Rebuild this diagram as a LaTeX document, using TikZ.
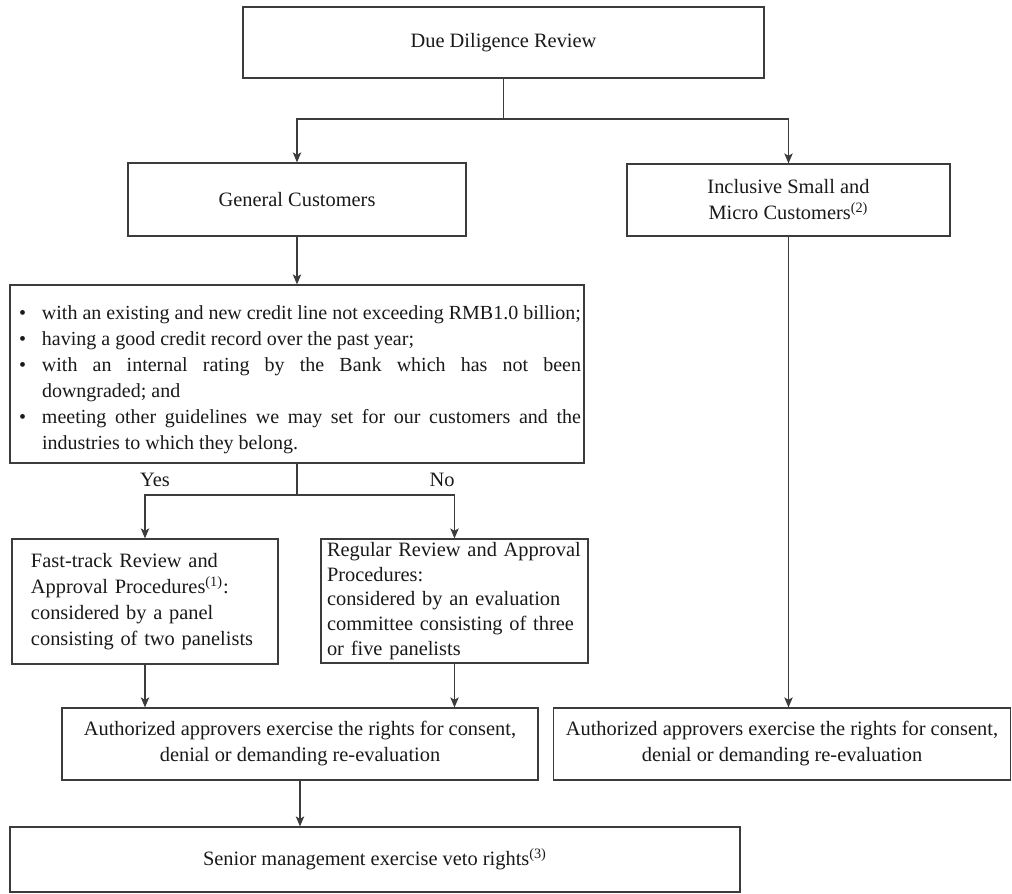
\documentclass[tikz,border=0pt]{standalone}
\usepackage{fontspec}
\setmainfont{Liberation Serif}
\usetikzlibrary{arrows.meta}
\definecolor{linec}{RGB}{60,60,60}
\definecolor{textc}{RGB}{25,25,25}
\newcommand{\critem}[1]{\par\noindent\hangindent=14.5pt\hangafter=1\makebox[14.5pt][l]{\hspace{3pt}\textbullet}#1}
\begin{document}
\begin{tikzpicture}[x=0.5pt,y=-0.5pt,
  box/.style={draw=linec, line width=0.6pt, inner sep=0pt, align=center, text=textc,
    font=\fontsize{10.2}{13}\selectfont},
  lbl/.style={inner sep=0pt, text=textc, font=\fontsize{10.2}{13}\selectfont},
  conn/.style={draw=linec, line width=0.6pt},
  arr/.style={conn, -{Stealth[length=5pt,width=4.2pt,inset=1.2pt]}}]
\useasboundingbox (0,0) rectangle (1012,894);

\node[box, minimum width=260.5pt, minimum height=35.5pt] (top) at (503.5,42.5) {Due Diligence Review};
\node[box, minimum width=169pt, minimum height=36.5pt] (gen) at (297,199.5) {General Customers};
\node[box, minimum width=161.5pt, minimum height=36pt] (incl) at (788.5,200) {Inclusive Small and\\ Micro Customers\textsuperscript{(2)}};

\node[box, align=justify, inner xsep=1.5pt, text width=284pt, minimum height=89pt, font=\fontsize{10}{13}\selectfont] (crit) at (297,374) {%
\critem{with an existing and new credit line not exceeding RMB1.0 billion;}
\critem{having a good credit record over the past year;}
\critem{with an internal rating by the Bank which has not been\linebreak downgraded; and}
\critem{meeting other guidelines we may set for our customers and the\linebreak industries to which they belong.}\par};

\node[lbl] (yes) at (155,480) {Yes};
\node[lbl] (no) at (442,480) {No};

\node[box, align=left, inner xsep=9.5pt, text width=114pt, minimum height=62.5pt] (fast) at (145,601.5) {Fast-track Review and\\ Approval Procedures\textsuperscript{(1)}:\\ considered by a panel\\ consisting of two panelists};
\node[box, align=left, inner xsep=3pt, text width=127.5pt, minimum height=62pt, font=\fontsize{10.2}{12.3}\selectfont] (reg) at (454.5,601) {Regular Review and Approval\\ Procedures:\\ considered by an evaluation\\ committee consisting of three\\ or five panelists};

\node[box, minimum width=238pt, minimum height=36pt] (authL) at (300,744) {Authorized approvers exercise the rights for consent,\\ denial or demanding re-evaluation};
\node[box, minimum width=228.5pt, minimum height=36pt] (authR) at (782,744) {Authorized approvers exercise the rights for consent,\\ denial or demanding re-evaluation};

\node[box, minimum width=365pt, minimum height=32.5pt] (senior) at (375,859.5) {Senior management exercise veto rights\textsuperscript{(3)}};

\coordinate (j1) at (503.5,119);
\coordinate (j2) at (297,495);

\draw[conn] (top.south) -- (j1);
\draw[arr] (j1) -| (gen.north);
\draw[arr] (j1) -| (incl.north);
\draw[arr] (gen.south) -- (crit.north);
\draw[conn] (crit.south) -- (j2);
\draw[arr] (j2) -| (fast.north);
\draw[arr] (j2) -| (reg.north);
\draw[arr] (fast.south) -- (fast.south |- authL.north);
\draw[arr] (reg.south) -- (reg.south |- authL.north);
\draw[arr] (incl.south) -- (incl.south |- authR.north);
\draw[arr] (authL.south) -- (authL.south |- senior.north);
\end{tikzpicture}
\end{document}
